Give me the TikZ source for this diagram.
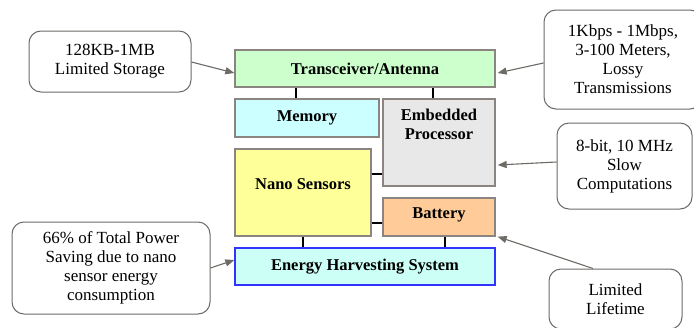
\documentclass[tikz,border=0pt]{standalone}
\usepackage{fontspec}
\setmainfont{Liberation Serif}
\usetikzlibrary{arrows.meta,calc}
\definecolor{bordgray}{HTML}{8A8580}
\definecolor{callgray}{HTML}{6E6A66}
\definecolor{fillgreen}{HTML}{CCFFCC}
\definecolor{fillcyan}{HTML}{CCFFFF}
\definecolor{fillgray}{HTML}{E8E8E8}
\definecolor{fillyellow}{HTML}{FFFF99}
\definecolor{fillorange}{HTML}{FFCC99}
\definecolor{fillenergy}{HTML}{CCFFF6}
\definecolor{energyblue}{HTML}{3333FF}
\begin{document}
\begin{tikzpicture}[x=1pt,y=-1pt,
  blockbox/.style={draw=bordgray, line width=1.3pt, inner sep=0pt, font=\fontsize{16.5}{19}\selectfont\bfseries, align=center},
  callout/.style={draw=callgray, line width=1pt, rounded corners=12pt, inner sep=0pt, font=\fontsize{17}{19}\selectfont, align=center, fill=white},
  blocktext/.style={font=\fontsize{16.5}{19}\selectfont\bfseries, align=center, inner sep=0pt},
  link/.style={line width=2pt, black},
  pointer/.style={draw=callgray, line width=1.1pt, -{Triangle[length=9pt,width=7pt]}}
]
\useasboundingbox (0,0) rectangle (694,327);
\clip (0,0) rectangle (694,327);
\fill[white] (0,0) rectangle (694,327);

% blocks
\node[blockbox, fill=fillgreen, minimum width=260pt, minimum height=37pt] (trans) at (365,68.5) {Transceiver/Antenna};
\node[blockbox, fill=fillcyan, minimum width=144pt, minimum height=38pt] (mem) at (307,118) {Memory};
\node[blockbox, fill=fillgray, minimum width=112pt, minimum height=87pt] (proc) at (439,142.5) {};
\node[blocktext] (proctext) at (439,124) {Embedded\\Processor};
\node[blockbox, fill=fillyellow, minimum width=136pt, minimum height=87pt] (nano) at (303,192.5) {};
\node[blocktext] (nanotext) at (303,184) {Nano Sensors};
\node[blockbox, fill=fillorange, minimum width=112pt, minimum height=38pt] (bat) at (439,217) {};
\node[blocktext] (battext) at (439,214.5) {Battery};
\node[blockbox, draw=energyblue, fill=fillenergy, minimum width=260pt, minimum height=37pt] (energy) at (365,266.5) {Energy Harvesting System};

% internal links
\draw[link] ([xshift=-11pt]mem.north) -- ([xshift=-11pt]mem.north |- trans.south);
\draw[link] ([xshift=-6pt]proc.north) -- ([xshift=-6pt]proc.north |- trans.south);
\draw[link] ([yshift=18.5pt]nano.east) -- ([yshift=18.5pt]nano.east -| proc.west);
\draw[link] ([yshift=-6pt]bat.west) -- ([yshift=-6pt]bat.west -| nano.east);
\draw[link] (nano.south) -- (nano.south |- energy.north);
\draw[link] ([xshift=6pt]bat.south) -- ([xshift=6pt]bat.south |- energy.north);

% callouts
\node[callout, minimum width=162pt, minimum height=61pt] (storage) at (110,61.5) {128KB-1MB\\Limited Storage};
\node[callout, minimum width=158pt, minimum height=99pt] (rate) at (623,59.5) {1Kbps - 1Mbps,\\3-100 Meters,\\Lossy\\Transmissions};
\node[callout, minimum width=135pt, minimum height=86pt] (cpu) at (624.5,166) {8-bit, 10 MHz\\Slow\\Computations};
\node[callout, minimum width=198pt, minimum height=92pt] (power) at (111,268) {66\% of Total Power\\Saving due to nano\\sensor energy\\consumption};
\node[callout, minimum width=133pt, minimum height=60pt] (life) at (615.5,299) {Limited\\Lifetime};

% pointers
\draw[pointer] ([yshift=-0.5pt]storage.east) -- ([yshift=-4.5pt]trans.west);
\draw[pointer] ([yshift=-3.5pt]rate.west) -- ([xshift=2pt,yshift=-4.5pt]trans.east);
\draw[pointer] ([yshift=4pt]cpu.west) -- ([xshift=2pt,yshift=-22.5pt]proc.east);
\draw[pointer] ([yshift=0pt]power.east) -- ([yshift=6.5pt]energy.west);
\draw[pointer] ([xshift=-22.5pt]life.north) -- ([xshift=2pt]bat.south east);
\end{tikzpicture}
\end{document}
